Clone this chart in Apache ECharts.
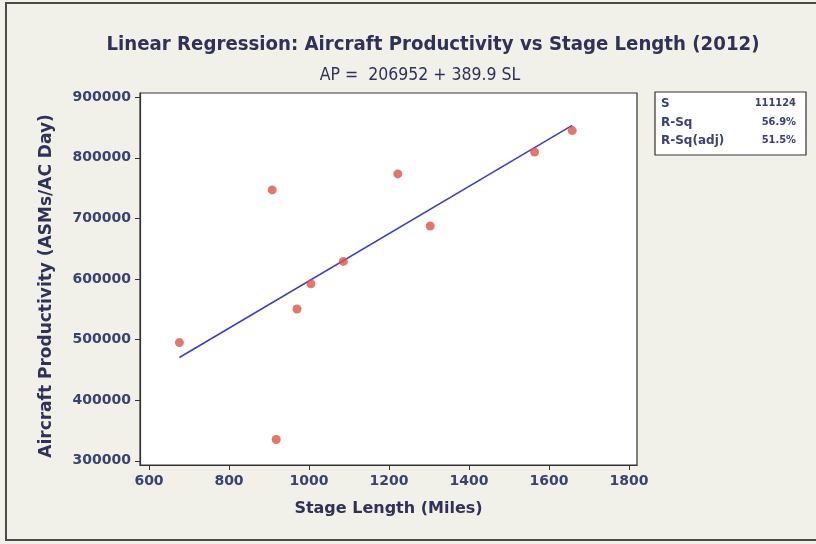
<!DOCTYPE html>
<html>
<head>
<meta charset="utf-8">
<script src="https://cdn.jsdelivr.net/npm/echarts@6/dist/echarts.min.js"></script>
<style>
html,body{margin:0;padding:0;background:#f2f1e9;}
#c{width:816px;height:544px;}
</style>
</head>
<body>
<div id="c"></div>
<script>
// Data
const stageLength = [676, 908, 918, 970, 1005, 1086, 1222, 1303, 1564, 1658];
const productivity = [495000, 747000, 335000, 550500, 592000, 629000, 773500, 687500, 809500, 845000];
const fitX = [676, 1658];
const fitY = [470400, 853400];
const xTicks = [600, 800, 1000, 1200, 1400, 1600, 1800];
const yTicks = [300000, 400000, 500000, 600000, 700000, 800000, 900000];
const statLabels = ['S', 'R-Sq', 'R-Sq(adj)'];
const statValues = ['111124', '56.9%', '51.5%'];
const titleText = 'Linear Regression: Aircraft Productivity vs Stage Length (2012)';
const subtitleText = 'AP =  206952 + 389.9 SL';
const xTitle = 'Stage Length (Miles)';
const yTitle = 'Aircraft Productivity (ASMs/AC Day)';

const FONTC = '"DejaVu Sans Condensed", "DejaVu Sans", sans-serif';
const FONT = '"DejaVu Sans", sans-serif';
const NAVY = '#2e3259';
const LABEL = '#3a4273';

const chart = echarts.init(document.getElementById('c'));

const statGraphics = [];
statLabels.forEach((t, i) => {
  statGraphics.push({
    type: 'text', left: 661, top: 98 + i * 18.5,
    style: { text: t, font: 'bold 12px ' + FONT, fill: LABEL }
  });
  statGraphics.push({
    type: 'text', right: 20, top: 98 + i * 18.5,
    style: { text: statValues[i], font: 'bold 11px ' + FONTC, fill: LABEL, textAlign: 'right' }
  });
});

chart.setOption({
  backgroundColor: '#f2f1e9',
  animation: false,
  title: [
    { text: titleText, left: 428, top: 30, textAlign: 'center',
      textStyle: { fontFamily: FONTC, fontWeight: 'bold', fontSize: 20.2, color: NAVY } },
    { text: subtitleText, left: 415, top: 61, textAlign: 'center',
      textStyle: { fontFamily: FONTC, fontWeight: 'normal', fontSize: 17.5, color: NAVY } }
  ],
  grid: {
    left: 140, right: 179, top: 93, bottom: 79,
    show: true, backgroundColor: '#ffffff', borderColor: '#333', borderWidth: 1.2
  },
  xAxis: {
    type: 'value', min: 577.5, max: 1820,
    name: xTitle, nameLocation: 'middle', nameGap: 36,
    nameTextStyle: { fontFamily: FONT, fontWeight: 'bold', fontSize: 16, color: NAVY },
    axisLine: { show: true, lineStyle: { color: '#333', width: 1.2 } },
    axisTick: { show: true, length: 5, lineStyle: { color: '#333' }, customValues: xTicks },
    axisLabel: { customValues: xTicks, formatter: v => String(v),
      fontFamily: FONT, fontWeight: 'bold', fontSize: 14, color: LABEL, margin: 9 },
    splitLine: { show: false }
  },
  yAxis: {
    type: 'value', min: 293000, max: 907000,
    axisLine: { show: true, lineStyle: { color: '#333', width: 1.2 } },
    axisTick: { show: true, length: 5, lineStyle: { color: '#333' }, customValues: yTicks },
    axisLabel: { customValues: yTicks, formatter: v => String(v),
      fontFamily: FONT, fontWeight: 'bold', fontSize: 14, color: LABEL, margin: 9 },
    splitLine: { show: false }
  },
  series: [
    {
      type: 'line', data: fitX.map((x, i) => [x, fitY[i]]),
      showSymbol: false, symbol: 'none',
      lineStyle: { color: '#3a3fc4', width: 1.5 }, z: 2
    },
    {
      type: 'scatter', data: stageLength.map((x, i) => [x, productivity[i]]),
      symbol: 'circle', symbolSize: 9,
      itemStyle: { color: '#dd5547' }, z: 3
    }
  ],
  graphic: [
    { type: 'rect', shape: { x: 6, y: 3, width: 830, height: 537 },
      style: { fill: 'none', stroke: '#4a4a4a', lineWidth: 2 }, silent: true },
    { type: 'rect', shape: { x: 655, y: 92, width: 151, height: 63 },
      style: { fill: '#ffffff', stroke: '#333', lineWidth: 1.2 } },
    { type: 'text', x: 47, y: 286, rotation: Math.PI / 2,
      style: { text: yTitle, font: 'bold 17px ' + FONT, fill: NAVY,
        textAlign: 'center', textVerticalAlign: 'middle' } }
  ].concat(statGraphics)
});
</script>
</body>
</html>
